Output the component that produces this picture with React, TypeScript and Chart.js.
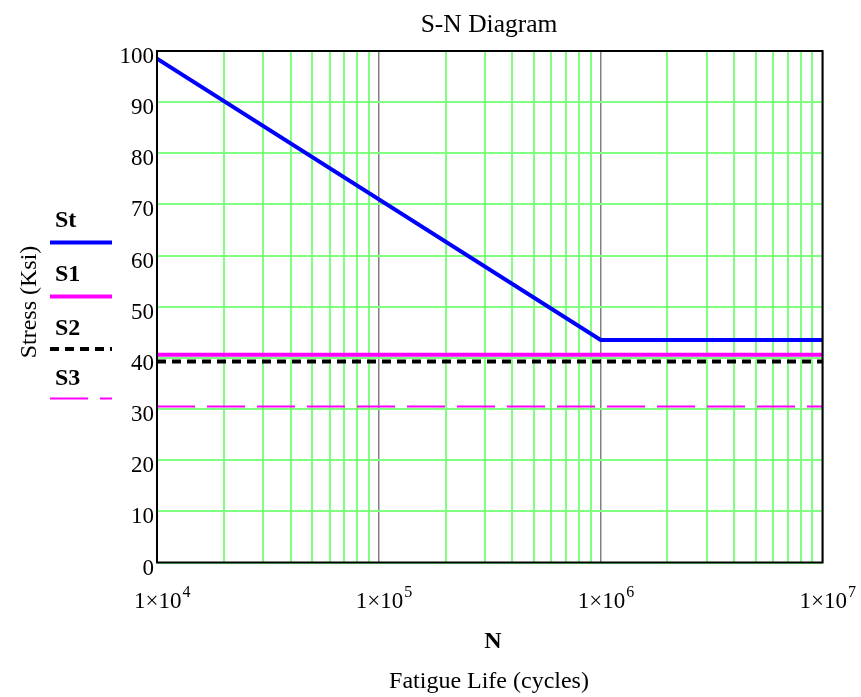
import React, { useEffect, useRef } from "react";
import { Chart, registerables } from "chart.js";

Chart.register(...registerables);

// ---- data ----
const TITLE = "S-N Diagram";
const X_TITLE = "N";
const X_SUBTITLE = "Fatigue Life (cycles)";
const Y_TITLE = "Stress (Ksi)";

const ST_N = [1e4, 1e6, 1e7];
const ST_S = [98.5, 43.5, 43.5];
const FLAT_N = [1e4, 1e7];
const S1_S = [40.6, 40.6];
const S2_S = [39.3, 39.3];
const S3_S = [30.5, 30.5];

const SERIES_NAMES = ["St", "S1", "S2", "S3"];
const Y_TICKS = [0, 10, 20, 30, 40, 50, 60, 70, 80, 90, 100];
const X_DECADE_EXPONENTS = [4, 5, 6, 7];
const X_MINOR_MULTS = [1, 2, 3, 4, 5, 6, 7, 8, 9];

const FONT = '"Liberation Serif", "Times New Roman", serif';

function pts(xs: number[], ys: number[]) {
  return xs.map((x, i) => ({ x, y: ys[i] }));
}

function isDecade(v: number) {
  const lg = Math.log10(v);
  return Math.abs(lg - Math.round(lg)) < 1e-9;
}

export default function App() {
  const ref = useRef<HTMLCanvasElement | null>(null);

  useEffect(() => {
    document.body.style.margin = "0";
    const canvas = ref.current;
    if (!canvas) return;

    const decorPlugin = {
      id: "decor",
      afterDatasetsDraw(chart: any) {
        const ctx = chart.ctx;
        const area = chart.chartArea;
        ctx.save();
        ctx.strokeStyle = "#000";
        ctx.lineWidth = 2;
        ctx.strokeRect(area.left, area.top, area.right - area.left, area.bottom - area.top);
        ctx.restore();
      },
      afterDraw(chart: any) {
        const ctx = chart.ctx;
        const area = chart.chartArea;
        const xs = chart.scales.x;
        const ys = chart.scales.y;
        ctx.save();
        ctx.fillStyle = "#000";
        // title
        ctx.font = `25.5px ${FONT}`;
        ctx.textAlign = "center";
        ctx.textBaseline = "alphabetic";
        ctx.fillText(TITLE, 489, 32);

        // y tick labels
        ctx.font = `23px ${FONT}`;
        ctx.textAlign = "right";
        for (const v of Y_TICKS) {
          const y = ys.getPixelForValue(v);
          ctx.fillText(String(v), area.left - 3, y + 12);
        }

        // x tick labels 1x10^n
        for (const e of X_DECADE_EXPONENTS) {
          const x = xs.getPixelForValue(Math.pow(10, e));
          ctx.font = `23px ${FONT}`;
          ctx.textAlign = "left";
          const base = "1\u00d710";
          const w = ctx.measureText(base).width;
          const x0 = x - 23;
          ctx.fillText(base, x0, 608);
          ctx.font = `16px ${FONT}`;
          ctx.fillText(String(e), x0 + w + 1, 597);
        }

        // x titles
        ctx.textAlign = "center";
        ctx.font = `bold 24px ${FONT}`;
        ctx.fillText(X_TITLE, 493, 648);
        ctx.font = `24px ${FONT}`;
        ctx.fillText(X_SUBTITLE, 489, 688);

        // y title
        ctx.save();
        ctx.translate(36, 302);
        ctx.rotate(-Math.PI / 2);
        ctx.textAlign = "center";
        ctx.font = `24px ${FONT}`;
        ctx.fillText(Y_TITLE, 0, 0);
        ctx.restore();

        // legend
        const textY = [227, 281, 335, 385];
        const lineY = [242.5, 296.5, 349, 398.5];
        chart.data.datasets.forEach((ds: any, i: number) => {
          ctx.font = `bold 24px ${FONT}`;
          ctx.textAlign = "left";
          ctx.fillStyle = "#000";
          ctx.fillText(SERIES_NAMES[i], 55, textY[i]);
          ctx.save();
          ctx.strokeStyle = ds.borderColor;
          ctx.lineWidth = ds.borderWidth;
          ctx.setLineDash(ds.borderDash || []);
          ctx.lineCap = "butt";
          ctx.beginPath();
          ctx.moveTo(50, lineY[i]);
          ctx.lineTo(112, lineY[i]);
          ctx.stroke();
          ctx.restore();
        });
        ctx.restore();
      },
    };

    const chart = new Chart(canvas, {
      type: "line",
      data: {
        datasets: [
          {
            label: SERIES_NAMES[0],
            data: pts(ST_N, ST_S),
            borderColor: "#0000ff",
            borderWidth: 4,
            pointRadius: 0,
            tension: 0,
          },
          {
            label: SERIES_NAMES[1],
            data: pts(FLAT_N, S1_S),
            borderColor: "#ff00ff",
            borderWidth: 4,
            pointRadius: 0,
          },
          {
            label: SERIES_NAMES[2],
            data: pts(FLAT_N, S2_S),
            borderColor: "#000000",
            borderWidth: 4,
            borderDash: [9, 6],
            pointRadius: 0,
          },
          {
            label: SERIES_NAMES[3],
            data: pts(FLAT_N, S3_S),
            borderColor: "#ff00ff",
            borderWidth: 2,
            borderDash: [38, 12],
            pointRadius: 0,
          },
        ],
      },
      options: {
        responsive: false,
        animation: false,
        devicePixelRatio: 1,
        layout: { padding: { top: 51, right: 38.5, left: 0, bottom: 0 } },
        plugins: {
          legend: { display: false },
          title: { display: false },
          tooltip: { enabled: false },
        },
        scales: {
          x: {
            type: "logarithmic",
            min: 1e4,
            max: 1e7,
            afterBuildTicks: (scale: any) => {
              const ticks: any[] = [];
              for (let e = 4; e < 7; e++) {
                for (const m of X_MINOR_MULTS) ticks.push({ value: m * Math.pow(10, e) });
              }
              ticks.push({ value: 1e7 });
              scale.ticks = ticks;
            },
            afterFit: (scale: any) => {
              scale.height = 134.5;
            },
            ticks: { display: false, autoSkip: false },
            border: { display: false },
            grid: {
              drawTicks: false,
              lineWidth: (c: any) => (c.tick && isDecade(c.tick.value) ? 1.5 : 2),
              color: (c: any) => (c.tick && isDecade(c.tick.value) ? "#808080" : "#80ff80"),
            },
          },
          y: {
            type: "linear",
            min: 0,
            max: 100,
            afterFit: (scale: any) => {
              scale.width = 157;
            },
            ticks: { display: false, stepSize: 10 },
            border: { display: false },
            grid: { drawTicks: false, color: "#80ff80", lineWidth: 2 },
          },
        },
      },
      plugins: [decorPlugin],
    } as any);

    return () => chart.destroy();
  }, []);

  return (
    <div style={{ width: 861, height: 697, background: "#fff" }}>
      <canvas ref={ref} width={861} height={697} style={{ display: "block" }} />
    </div>
  );
}
